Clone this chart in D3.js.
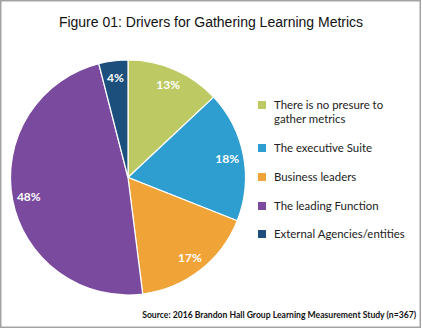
<!DOCTYPE html>
<html>
<head>
<meta charset="utf-8">
<script src="https://cdn.jsdelivr.net/npm/d3@7"></script>
<style>
  html, body { margin: 0; padding: 0; background: #fff; }
  svg { display: block; }
</style>
</head>
<body>
<svg id="chart" width="422" height="329"></svg>
<script>
// Survey responses: who drives the gathering of learning metrics
const categories = [
  "There is no presure to gather metrics",
  "The executive Suite",
  "Business leaders",
  "The leading Function",
  "External Agencies/entities"
];
const legendLines = [
  ["There is no presure to", "gather metrics"],
  ["The executive Suite"],
  ["Business leaders"],
  ["The leading Function"],
  ["External Agencies/entities"]
];
const values = [13, 18, 17, 48, 4];
const colors = ["#bdca63", "#2e9dcf", "#f0a337", "#7a4a9e", "#1c4f7c"];

const W = 422, H = 329;
const svg = d3.select("#chart");

// Frame
svg.append("rect")
  .attr("x", 0.75).attr("y", 0.75)
  .attr("width", W - 2.5).attr("height", H - 2.5)
  .attr("fill", "#fff")
  .attr("stroke", "#a3a3a3")
  .attr("stroke-width", 1.5);

// Title
svg.append("text")
  .attr("x", 211).attr("y", 27)
  .attr("text-anchor", "middle")
  .attr("font-family", "'Liberation Sans', Arial, sans-serif")
  .attr("font-size", 14)
  .attr("fill", "#111")
  .text("Figure 01: Drivers for Gathering Learning Metrics");

// Pie
const cx = 128, cy = 177.5, r = 117.5;
const pie = d3.pie().sort(null).value(d => d)(values);
const arc = d3.arc().innerRadius(0).outerRadius(r);
const labelArc = d3.arc().innerRadius(101).outerRadius(101);
const color = d3.scaleOrdinal().domain(d3.range(values.length)).range(colors);

const g = svg.append("g").attr("transform", `translate(${cx},${cy})`);
g.selectAll("path.slice")
  .data(pie)
  .join("path")
  .attr("class", "slice")
  .attr("d", arc)
  .attr("fill", (d, i) => color(i))
  .attr("stroke", "#fff")
  .attr("stroke-width", 1.2);

g.selectAll("text.pct")
  .data(pie)
  .join("text")
  .attr("class", "pct")
  .attr("transform", d => `translate(${labelArc.centroid(d)})`)
  .attr("text-anchor", "middle")
  .attr("dy", "0.36em")
  .attr("font-family", "Lato, 'Open Sans', sans-serif")
  .attr("font-weight", "bold")
  .attr("font-size", 12)
  .attr("fill", "#fff")
  .text(d => d.data + "%");

// Legend
const legendY = d3.scaleOrdinal().domain(d3.range(values.length)).range([105, 148, 177, 206, 234]);
const legend = svg.append("g");
const items = legend.selectAll("g.item")
  .data(categories)
  .join("g")
  .attr("class", "item")
  .attr("transform", (d, i) => `translate(258,${legendY(i)})`);

items.append("rect")
  .attr("x", 0).attr("y", -4)
  .attr("width", 8).attr("height", 8)
  .attr("fill", (d, i) => color(i));

items.each(function(d, i) {
  const t = d3.select(this).append("text")
    .attr("x", 16).attr("y", 0)
    .attr("font-family", "Lato, 'Open Sans', sans-serif")
    .attr("font-size", 11.4)
    .attr("fill", "#222");
  legendLines[i].forEach((line, k) => {
    t.append("tspan").attr("x", 16).attr("dy", k === 0 ? "0.35em" : "14px").text(line);
  });
});

// Source note
svg.append("text")
  .attr("x", 416).attr("y", 318)
  .attr("text-anchor", "end")
  .attr("font-family", "Lato, 'Open Sans', sans-serif")
  .attr("font-weight", "bold")
  .attr("font-size", 8.6)
  .attr("fill", "#111")
  .text("Source: 2016 Brandon Hall Group Learning Measurement Study (n=367)");
</script>
</body>
</html>
